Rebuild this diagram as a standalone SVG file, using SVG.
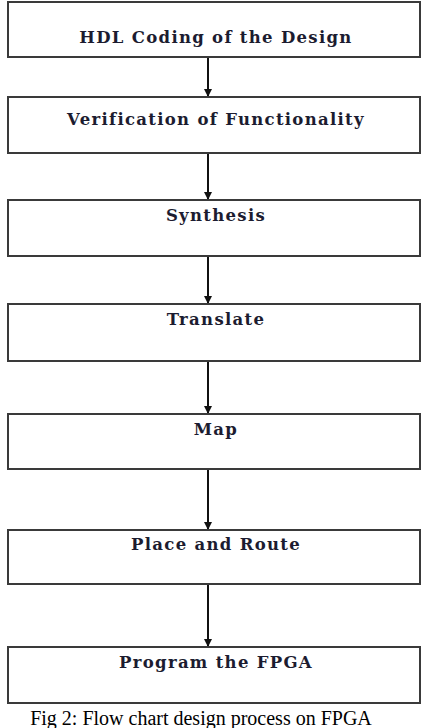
<svg xmlns="http://www.w3.org/2000/svg" width="428" height="728" viewBox="0 0 428 728">
<defs>
<style>
.box{fill:#fff;stroke:#3a3a3a;stroke-width:2}
.lbl{font-family:"DejaVu Serif","Liberation Serif",serif;font-size:16.5px;font-weight:bold;letter-spacing:1.3px;fill:#1c1c30;text-anchor:middle}
.cap{font-family:"Liberation Serif",serif;font-size:20px;fill:#000;text-anchor:middle}
.edge{stroke:#111;stroke-width:2;fill:none;marker-end:url(#ah)}
</style>
<marker id="ah" viewBox="0 0 10 10" refX="10" refY="5" markerWidth="4" markerHeight="4" markerUnits="strokeWidth" orient="auto">
<path d="M0,0 L10,5 L0,10 z" fill="#111"/>
</marker>
</defs>
<rect width="428" height="728" fill="#fff"/>
<g id="connectors">
<line class="edge" x1="208" y1="57" x2="208" y2="97"/>
<line class="edge" x1="208" y1="153" x2="208" y2="200"/>
<line class="edge" x1="208" y1="256" x2="208" y2="304"/>
<line class="edge" x1="208" y1="361" x2="208" y2="414"/>
<line class="edge" x1="208" y1="469" x2="208" y2="530"/>
<line class="edge" x1="208" y1="584" x2="208" y2="647"/>
</g>
<g id="n1"><rect class="box" x="8" y="2" width="412" height="55"/><text class="lbl" x="216" y="43">HDL Coding of the Design</text></g>
<g id="n2"><rect class="box" x="8" y="97" width="412" height="56"/><text class="lbl" x="216" y="125">Verification of Functionality</text></g>
<g id="n3"><rect class="box" x="8" y="200" width="412" height="56"/><text class="lbl" x="216" y="221">Synthesis</text></g>
<g id="n4"><rect class="box" x="8" y="304" width="412" height="57"/><text class="lbl" x="216" y="325">Translate</text></g>
<g id="n5"><rect class="box" x="8" y="414" width="412" height="55"/><text class="lbl" x="216" y="435">Map</text></g>
<g id="n6"><rect class="box" x="8" y="530" width="412" height="54"/><text class="lbl" x="216" y="550">Place and Route</text></g>
<g id="n7"><rect class="box" x="8" y="647" width="412" height="56"/><text class="lbl" x="216" y="668">Program the FPGA</text></g>
<text class="cap" x="201" y="725">Fig 2: Flow chart design process on FPGA</text>
</svg>
